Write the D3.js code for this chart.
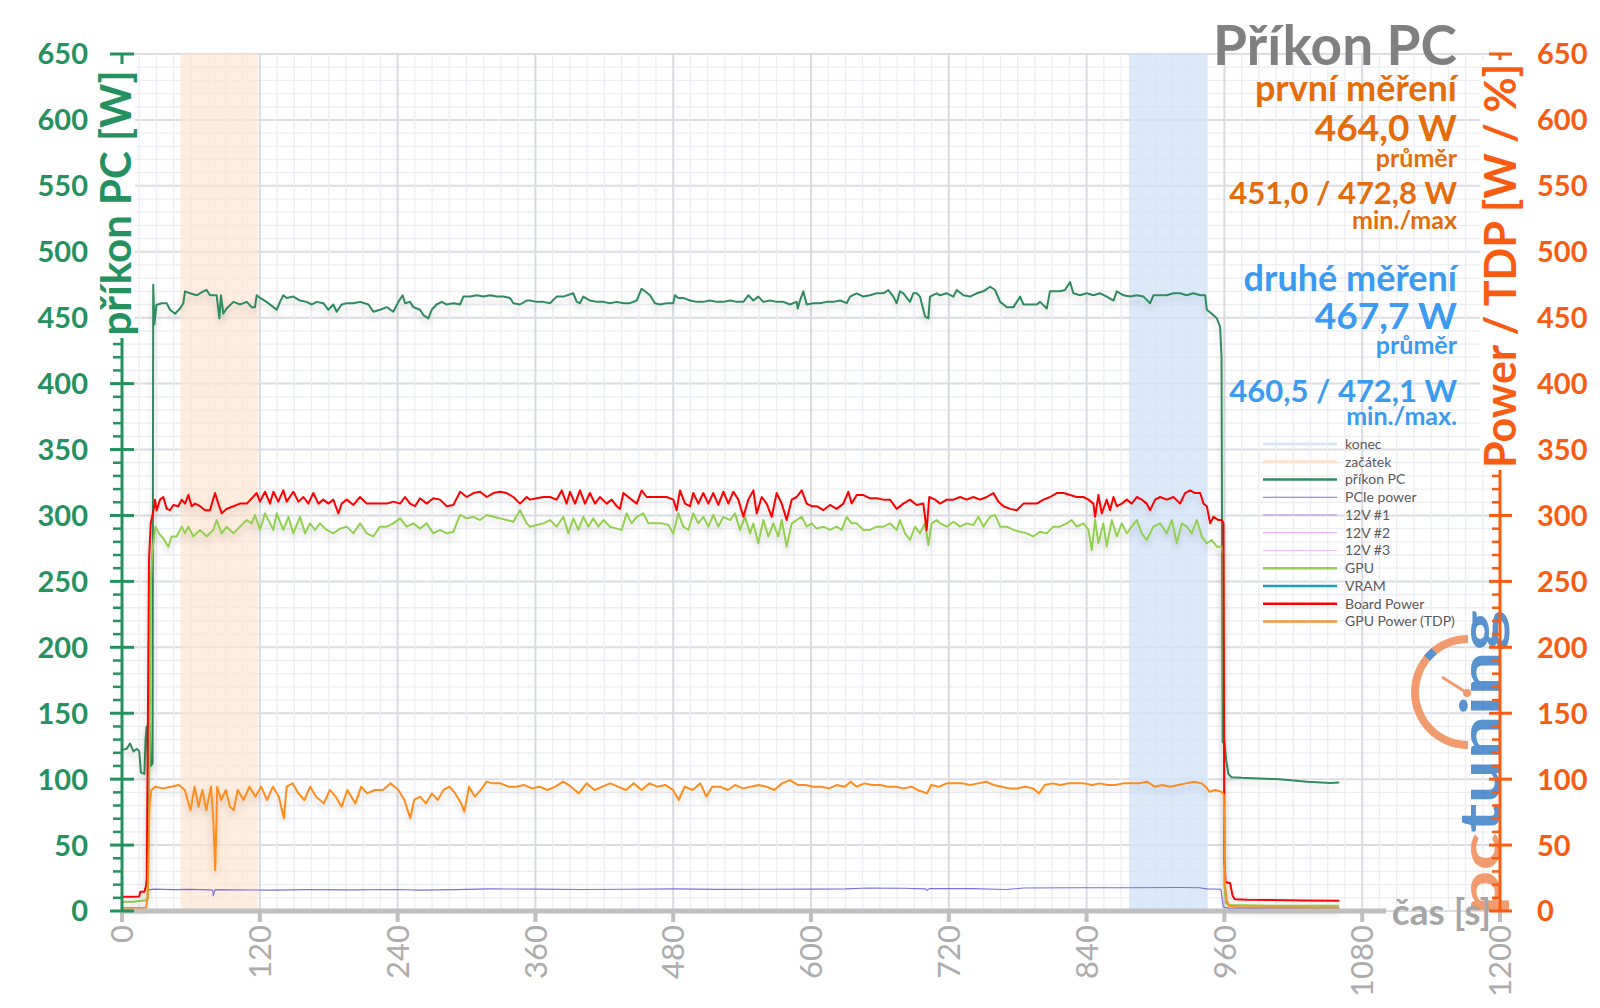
<!DOCTYPE html>
<html lang="cs">
<head>
<meta charset="UTF-8" />
<title>Příkon PC</title>
<script src="https://d3js.org/d3.v7.min.js"></script>
<style>
  html, body { margin: 0; padding: 0; background: #fff; }
  svg { display: block; font-family: Lato, "Open Sans", sans-serif; }
</style>
</head>
<body>
<svg id="chart" width="1600" height="1008"></svg>
<script>
// ---- data (time [s], power [W]) ----
const xTicks = [0, 120, 240, 360, 480, 600, 720, 840, 960, 1080, 1200];
const yTicks = [0, 50, 100, 150, 200, 250, 300, 350, 400, 450, 500, 550, 600, 650];

const startBand = [51, 118];   // "začátek"
const endBand = [877, 945];    // "konec"

const pcPower = [
  [0,122],[4,123],[7,127],[10,121],[13,123],[15,121],[16.5,105],[19.5,104],[20.5,130],[21.5,140],[22.8,109],[24.2,142],[25,110],[26.6,112],
  [27.2,475],[28.2,445],[30,459.6],[34.5,461],[38.9,461],[41.8,456],[46.2,453],[50.5,457],[53.4,461],[54.9,470],[59.2,468.5],[65,467],
  [70.8,470],[73.7,471],[76.6,467],[82.4,467],[84.8,449.5],[86.2,467],[88.2,453],[91.1,457],[97,462],[99.9,461],[102.8,460],[108.6,462],
  [112.9,458],[115.8,458],[117.3,467],[120.2,465],[125.9,462],[131.8,458],[134.7,456],[137.6,462],[140.5,467],[143.4,465],[149.2,466],
  [155,463],[160.8,462],[165.2,460],[169.5,462],[175.3,461],[179.7,456],[184,460],[187,454.5],[191.3,460],[195.7,461],[201.5,461],
  [207.3,462],[214.6,460],[218.9,454.5],[224.7,456],[230.5,458],[236.3,454.5],[240.7,462],[244.4,467],[246.5,461],[250.8,462],[253.7,458],
  [259.5,456],[262.4,452],[266.8,449.5],[269.7,456],[274,460],[278.4,462],[282.8,460],[288.6,461],[294.4,460],[297.3,466],[303.1,466],
  [308.9,467],[314.7,466],[320.5,467],[326.3,466],[332.1,466],[337.9,465],[340.8,461],[346.6,460],[352.4,463],
  [355.3,463],[361.1,462],[366.9,462],[372.7,461],[378.5,466],[384.3,466],[393,468.5],[396,462],[398.8,461],[401.7,466],[407.5,463],
  [413.4,462],[419.2,462],[425,461],[430.8,462],[436.6,461],[442.4,461],[448.2,463],[452.5,472],[455.4,470],[459.8,467],[464.1,461],
  [468.5,460],[474.3,461],[480.1,461],[481.5,467],[484.4,465],[488.8,465],[494.6,463],[500.4,462],[506.2,462],[512,463],[517.9,462],
  [523.7,462],[529.5,463],[535.3,462],[541.1,462],[545.4,467],[549.8,463],[554.1,466],[558.5,462],[564.3,463],[570.1,462],[575.9,462],
  [581.7,460],[587.5,462],[588.4,457],[590.4,463],[593.3,470],[596.2,460],[602,461],[607.8,461],[613.6,462],[619.4,462],[625.3,463],
  [631.1,461],[634,466],[639.8,468.5],[645.6,466],[651.4,467],[657.2,468.5],[663,468.5],[667.3,471],[671.7,466],[674.6,461],[677.5,470],
  [680.4,468.5],[686.2,462],[689.1,468.5],[692,468.5],[694.9,466],[699.3,451],[702.2,449.5],[703.6,466],[709.4,468.5],
  [712.4,467],[718.2,468.5],[724,466],[726.9,471],[732.7,467],[738.5,466],[744.3,468.5],[750.1,470],[756,473.5],[760.3,471],[764.7,462],
  [770.5,458],[776.3,458],[782.1,466],[785,460],[790.8,460],[796.6,460],[799.5,462],[805.3,457],[808.1,470],[816.9,470],[821.2,471],
  [825.6,477],[828.5,468.5],[834.3,467],[840.1,468.5],[845.9,467],[851.7,468.5],[857.5,466],[863.4,463],[866.3,470],[872.1,467],
  [877.9,466],[883.7,467],[889.5,466],[895.3,461],[898.2,467],[904,467],[909.8,467],[915.6,468.5],[921.4,468.5],[927.2,467],[933.1,468.5],
  [938.9,467],[943.2,467],[944.7,456],[949,453],[953.4,449.5],[956.3,443],[957.5,420],[958.5,128],[960,129],[961.6,114],[963.5,104],
  [966,101.5],[975,101],[990,100.5],[1008,100],[1032,98],[1052,97],[1060,97.5]
];

const boardPower = [
  [0,10.8],[8,10.8],[15,11],[16,14.6],[19.4,14.6],[20.8,18.5],[21.6,25],[22.6,150],[23.5,265],[25,294],[26.5,300],[27.5,304],[28.7,312],
  [30.2,304],[33.1,312],[36,314],[38.9,305],[41.8,304],[44.7,308],[49,307],[52,312],[54.9,309],[57.8,315.5],[60.7,307],[63.6,309],[68,307],
  [72.3,304],[76.6,304],[81,317],[83.9,309],[86.8,301.6],[91.1,305],[97,307],[102.8,309],[108.6,309],[112.9,313],[117.3,317],[120.2,310.5],
  [124.5,318],[128.9,309],[131.8,318],[136.1,310.5],[140.5,319],[143.4,310.5],[149.2,318],[153.6,310.5],[158,314],[162.3,309],[166.6,317],
  [171,309],[175.3,312],[179.7,309],[184,312],[188.4,301.6],[191.3,309],[195.7,312],[201.5,308],[207.3,314],[213.1,309],[218.9,309],
  [224.7,309],[230.5,309],[236.3,310.5],[242.1,309],[246.5,314],[250.8,309],[255.2,307],[259.5,313],[265.3,309],[271.1,313],[276.9,312],
  [282.8,307],[288.6,308],[294.4,318],[300.2,314],[306,317],[311.8,318],[317.6,314],[323.4,317],[329.2,318],[335,317],[340.8,314],
  [346.6,309],[352.4,314],
  [355.3,312],[361.1,313],[366.9,314],[372.7,314],[378.5,312],[382.9,319],[387.2,309],[390.1,318],[394.5,309],[398.8,319],[403.2,309],
  [407.5,317],[411.9,309],[416.2,314],[422,309],[426.4,312],[430.8,307],[433.7,305],[436.6,317],[440.9,314],[443.8,312],[448.2,309],
  [452.5,319],[456.9,314],[462.7,314],[468.5,314],[474.3,314],[480.1,312],[483,304],[485.9,319],[490.3,309],[494.6,307],[497.5,317],
  [501.9,309],[506.2,317],[510.6,309],[514.9,317],[519.3,308],[523.7,318],[528,309],[532.4,318],[536.7,312],[541.1,299],[545.4,312],
  [549.8,319],[552.7,301.6],[557.1,314],[561.4,309],[565.8,299],[570.1,317],[574.5,309],[578.8,296.5],[583.2,312],[587.5,314],[591.9,319],
  [596.2,309],[600.6,307],[604.9,307],[610.7,304],[616.5,308],[622.4,305],[628.2,309],[632.5,318],[635.4,309],[639.8,315.5],[645.6,315.5],
  [651.4,313],[657.2,313],[663,312],[668.8,312],[674.6,305],[680.4,309],[686.2,312],[692,308],[697.8,309],[700.7,289],[703,314],[708,312],
  [712.4,309],[718.2,312],[724,312],[729.8,314],[735.6,312],[741.4,314],[747.2,312],[753,314],[758.8,317],[763.2,310.5],[767.6,307],
  [773.4,305],[779.2,304],[785,309],[790.8,309],[796.6,309],[802.4,312],[808.2,314],[814,317],[819.9,317],[825.6,315.5],[831.4,314],
  [837.2,314],[841.6,312],[845.9,309],[847.4,299],[850.3,315.5],[853.2,301.6],[857.5,312],[860.4,304],[863.4,314],[866.3,307],[870.6,309],
  [875,312],[879.3,309],[883.7,314],[888,312],[892.4,309],[895.3,304],[899.7,312],[904,314],[909.8,312],[915.6,314],[921.4,309],
  [925.8,317],[930.1,319],[934.5,317],[938.9,317],[941.8,309],[944.7,307],[947.6,294],[950.5,299],[954.8,296.5],[957.7,296.5],[959.2,294],
  [960,40],[961,22],[965,21],[967,12],[969,9],[980,8.5],[1000,8.3],[1030,8],[1060,7.8]
];

const gpuCore = [
  [0,7],[10,7],[15,7.5],[20,8],[22.5,9],[24,120],[25.2,250],[26.2,271],[29.2,291.5],[32.1,286.4],[36,282.6],[40.4,276.3],[43.3,284],
  [47.6,284],[52,291.5],[54.9,286.4],[57.8,291.5],[62.1,284],[68,289],[73.7,284],[79.5,289],[82.4,296.5],[86.8,286.4],[91.1,291.5],
  [97,286.4],[102.8,291.5],[108.6,296.5],[112.9,294],[115.8,300.4],[120.2,289],[124.5,301.6],[128.9,294],[131.8,289],[134.7,301.6],
  [140.5,289],[144.9,299],[149.2,286.4],[155,299],[159.4,286.4],[163.7,294],[168.1,289],[172.4,294],[178.2,289],[184,286.4],[189.9,290],
  [195.7,291.5],[201.5,286.4],[207.3,294],[213.1,286.4],[218.9,284],[224.7,291.5],[230.5,291.5],[236.3,294],[242.1,297.8],[247.9,291.5],
  [253.7,294],[259.5,290],[265.3,294],[271.1,286.4],[276.9,289],[282.8,286.4],[288.6,287.7],[294.4,300.4],[300.2,297.8],[306,299],
  [311.8,296.5],[317.6,300.4],[323.4,299],[329.2,297.8],[335,296.5],[340.8,295.2],[346.6,304],[352.4,294],
  [355.3,291.5],[361.1,292.7],[366.9,294],[372.7,296.5],[378.5,291.5],[384.3,299],[388.7,286.4],[393,297.8],[397.4,289],[401.7,299],
  [406.1,291.5],[410.4,297.8],[414.8,291.5],[419.2,296.5],[425,291.5],[430.8,290],[435.1,289],[439.5,301.6],[443.8,294],[448.2,299],
  [454,301.6],[458.4,294],[464.2,294],[470,294],[475.8,292.7],[480.1,286.4],[484.5,301.6],[488.8,291.5],[493.2,289],[497.5,301.6],
  [501.9,294],[506.2,299],[510.6,291.5],[514.9,300.4],[519.3,291.5],[523.7,299],[529.5,296.5],[533.8,301.6],[538.2,289],[542.5,299],
  [546.9,286.4],[549.8,294],[554.1,278.9],[558.5,296.5],[562.8,284],[567.2,294],[571.5,284],[574.5,296.5],[578.8,276.3],[583.2,294],
  [587.5,296.5],[591.9,299],[596.2,291.5],[600.6,294],[604.9,290],[610.7,291.5],[616.5,289],[622.4,291.5],[626.7,289],[631.1,299],
  [635.4,294],[639.8,294],[645.6,289],[651.4,289],[657.2,291.5],[663,291.5],[668.8,294],[674.6,289],[677.5,296.5],[681.9,286.4],
  [686.2,281.4],[690.6,291.5],[694.9,286.4],[699.3,294],[702.2,277.6],[705.1,294],[709.4,296.5],
  [712.4,294],[718.2,291.5],[724,295.2],[729.8,291.5],[735.6,294],[741.4,292.7],[745.8,299],[750.1,291.5],[756,299],[760.3,300.4],
  [764.7,291.5],[770.5,291.5],[776.3,289],[782.1,287.7],[787.9,286.4],[793.7,284],[799.5,287.7],[805.3,286.4],[811.1,291.5],[816.9,291.5],
  [822.7,294],[827.1,296.5],[831.4,291.5],[837.2,294],[841.6,289],[844.5,273.8],[847.4,296.5],[850.3,278.9],[854.6,294],[857.5,276.3],
  [861.9,296.5],[866.3,284],[870.6,294],[875,286.4],[879.3,291.5],[883.7,296.5],[888,286.4],[892.4,281.4],[898.2,291.5],[904,294],
  [909.8,286.4],[914.2,296.5],[918.5,278.9],[922.9,294],[927.2,291.5],[931.6,286.4],[936,296.5],[940.3,284],[944.7,278.9],[949,281.4],
  [953.4,276.3],[957.7,276.3],[959,270],[960,20],[961.5,6],[964,4.5],[1000,4],[1060,4]
];

const gpuTdp = [
  [0,2],[21,2.5],[22.2,10],[24,80],[25.6,91.8],[29,94.3],[35.8,93],[42.7,94.3],[49.5,95.6],[54.6,91.8],[59.7,76.6],[63.2,94.3],
  [66.6,79.1],[70,91.8],[73.4,76.6],[77.5,94.3],[79.5,69],[81.2,31],[82.9,94.3],[86.4,84.2],[90.5,91.8],[93.9,79.1],[97.3,76.6],
  [100.7,91.8],[105.8,84.2],[111,94.3],[116.1,86.7],[121.2,94.3],[126.3,84.2],[131.4,94.3],[136.6,86.7],[141,70.3],[143.4,94.3],
  [148.5,96.8],[153.6,89.2],[158.8,84.2],[163.9,94.3],[169,86.7],[175.8,81.6],[181,91.8],[186.1,86.7],[191.2,79.1],[196.3,91.8],
  [203.2,81.6],[208.3,94.3],[213.4,89.2],[220.2,91.8],[227.1,91.8],[233.9,96.8],[240.7,91.8],[245.9,84.2],[251,70.3],[254.4,84.2],
  [259.5,86.7],[264.6,81.6],[269.8,89.2],[274.9,84.2],[280,91.8],[285.1,94.3],[290.2,89.2],[295.4,81.6],[298.1,75.3],[302.2,94.3],
  [307.3,86.7],[312.4,91.8],[317.6,98.1],[322.7,96.8],[329.5,96.8],[336.4,94.3],[343.2,94.3],[350,95.6],[356.8,93],[363.7,94.3],
  [370.5,91.8],[377.3,94.3],[384.2,98.1],[391,94.3],[397.8,89.2],[404.6,96.8],[411.5,91.8],[418.3,94.3],[425.1,96.8],[432,94.3],
  [438.8,91.8],[445.6,96.8],[452.5,91.8],[459.3,96.8],[466.1,94.3],[473,95.6],[479.8,91.8],[484.9,84.2],[490,94.3],[496.9,91.8],
  [503.7,96.8],[508.8,86.7],[513.9,94.3],[520.8,94.3],[527.6,91.8],
  [533.8,95.6],[540.6,93],[547.5,94.3],[554.3,95.6],[561.1,94.3],[568,91.8],[574.8,96.8],[581.6,99.3],[588.4,95.6],[595.3,95.6],
  [602.1,94.3],[608.9,94.3],[615.8,93],[622.6,95.6],[629.4,94.3],[634.5,98.1],[639.7,94.3],[646.5,96.8],[653.3,95.6],[660.2,95.6],
  [667,94.3],[673.8,94.3],[680.6,93],[687.5,94.3],[692.6,91.8],[701.1,89.2],[704.6,95.6],[711.4,94.3],[718.2,96.8],[725,96.8],
  [731.9,96.8],[738.7,95.6],[745.5,96.8],[752.4,98.1],[759.2,95.6],[766,94.3],[772.9,93],[779.7,93],[786.5,94.3],[793.3,93],[798.5,89.2],
  [803.6,95.6],[810.4,96.8],[817.2,95.6],[824.1,96.8],[830.9,96.8],[837.7,96.8],[844.6,95.6],[851.4,96.8],[858.2,95.6],[865.1,95.6],
  [871.9,96.8],[878.7,96.8],[885.5,96.8],[892.4,98.1],[899.2,94.3],[906,95.6],[912.9,94.3],[919.7,95.6],[926.5,96.8],[933.4,98.1],
  [940.2,96.8],[943.6,94.3],[947,90.5],[952.1,91.8],[957.3,90.5],[959.5,88],[960.5,20],[962,8],[964,4],[970,3],[1060,2.5]
];

const pciePower = [
  [0,2.5],[21,2.5],[23,16],[28,16.6],[45,16.2],[60,16.4],[75,16],[79,15.8],[79.5,11.5],[81,16.2],[100,16],[130,15.8],[160,16.2],
  [200,16],[240,16.3],[260,15.8],[290,16.2],[320,16.8],[360,16.6],[400,16.3],[440,16.5],[480,16.8],[520,16.4],[560,16.5],[600,16.6],
  [630,16.8],[650,17.4],[680,17.2],[700,16.8],[701,15.5],[703,17],[740,17],[770,16.3],[785,17.4],[830,17.6],[880,17.6],[920,17.8],
  [938,17.6],[945,16.8],[957,16.5],[959,3],[965,2],[1060,2]
];

const legendItems = [
  { name: "konec", color: "#d9e7f8", w: 3 },
  { name: "začátek", color: "#fde3cf", w: 3 },
  { name: "příkon PC", color: "#2e8b5e", w: 2.5 },
  { name: "PCIe power", color: "#7b6fe0", w: 1.2 },
  { name: "12V #1", color: "#b98ae6", w: 1.2 },
  { name: "12V #2", color: "#d7a0ea", w: 1.2 },
  { name: "12V #3", color: "#eac0f2", w: 1.2 },
  { name: "GPU", color: "#92d050", w: 2.5 },
  { name: "VRAM", color: "#1f9dbf", w: 2.5 },
  { name: "Board Power", color: "#ff0000", w: 2.5 },
  { name: "GPU Power (TDP)", color: "#f7963c", w: 2.5 }
];

// ---- layout ----
const svg = d3.select("#chart");
const x = d3.scaleLinear().domain([0, 1200]).range([122, 1500]);
const y = d3.scaleLinear().domain([0, 650]).range([911, 54]);

const green = "#25915f", orange = "#f85c12", grey = "#a6a6a6";

const defs = svg.append("defs");
const shadow = defs.append("filter").attr("id", "shadow")
  .attr("x", "-5%").attr("y", "-20%").attr("width", "110%").attr("height", "160%");
shadow.append("feDropShadow").attr("dx", 0).attr("dy", 5).attr("stdDeviation", 3)
  .attr("flood-color", "#000").attr("flood-opacity", 0.16);

// grid
const grid = svg.append("g");
const hMinor = d3.range(0, 651, 10).filter(v => v % 50 !== 0);
const vMinor = d3.range(0, 1201, 15).filter(v => v % 120 !== 0);

grid.selectAll(".hmaj").data(yTicks).join("line")
  .attr("x1", x(0)).attr("x2", x(1200)).attr("y1", d => y(d)).attr("y2", d => y(d))
  .attr("stroke", "#dcdde2").attr("stroke-width", 2);
grid.selectAll(".vmin").data(vMinor).join("line")
  .attr("x1", d => x(d)).attr("x2", d => x(d)).attr("y1", y(650)).attr("y2", y(0))
  .attr("stroke", "#edeef3").attr("stroke-width", 1.3);
grid.selectAll(".hmin").data(hMinor).join("line")
  .attr("x1", x(0)).attr("x2", x(1200)).attr("y1", d => y(d)).attr("y2", d => y(d))
  .attr("stroke", "#edeef3").attr("stroke-width", 1.3);
grid.selectAll(".vmaj").data(xTicks).join("line")
  .attr("x1", d => x(d)).attr("x2", d => x(d)).attr("y1", y(650)).attr("y2", y(0))
  .attr("stroke", "#d9dbe1").attr("stroke-width", 2);

// bands
svg.append("rect")
  .attr("x", x(startBand[0])).attr("width", x(startBand[1]) - x(startBand[0]))
  .attr("y", y(650)).attr("height", y(0) - y(650))
  .attr("fill", "#fde4d0").attr("fill-opacity", 0.7);
svg.append("rect")
  .attr("x", x(endBand[0])).attr("width", x(endBand[1]) - x(endBand[0]))
  .attr("y", y(650)).attr("height", y(0) - y(650))
  .attr("fill", "#cfe2f9").attr("fill-opacity", 0.75);

// logo
const logo = svg.append("g").attr("opacity", 0.85);
logo.append("path")
  .attr("transform", "translate(1468,692)")
  .attr("d", d3.arc()({ innerRadius: 49, outerRadius: 57, startAngle: Math.PI, endAngle: 2 * Math.PI }))
  .attr("fill", "#f08a55");
logo.append("path")
  .attr("transform", "translate(1468,692)")
  .attr("d", d3.arc()({ innerRadius: 49, outerRadius: 57, startAngle: 1.72 * Math.PI, endAngle: 1.78 * Math.PI }))
  .attr("fill", "#3b7fc7");
logo.append("line").attr("x1", 1467).attr("y1", 693).attr("x2", 1442).attr("y2", 677)
  .attr("stroke", "#f08a55").attr("stroke-width", 3);
logo.append("circle").attr("cx", 1467).attr("cy", 693).attr("r", 4).attr("fill", "#f08a55");
const logoText = logo.append("text")
  .attr("transform", "translate(1500,915) rotate(-90)")
  .attr("font-size", 56).attr("font-weight", 700)
  .attr("textLength", 305).attr("lengthAdjust", "spacingAndGlyphs");
logoText.append("tspan").attr("fill", "#f08a55").text("pc");
logoText.append("tspan").attr("fill", "#3b7fc7").text("tuning");

// series
const line = d3.line().x(d => x(d[0])).y(d => y(d[1]));
const series = [
  { data: pcPower, color: "#2e8b5e", w: 2 },
  { data: pciePower, color: "#7b6fe0", w: 1.1, noShadow: true },
  { data: gpuCore, color: "#92d050", w: 2 },
  { data: boardPower, color: "#ff0000", w: 2 },
  { data: gpuTdp, color: "#ff8c1a", w: 2 }
];
svg.append("g").selectAll("path").data(series).join("path")
  .attr("d", d => line(d.data))
  .attr("fill", "none")
  .attr("stroke", d => d.color)
  .attr("stroke-width", d => d.w)
  .attr("stroke-linejoin", "round")
  .attr("filter", d => d.noShadow ? null : "url(#shadow)");

// x axis
svg.append("line").attr("x1", x(0)).attr("x2", 1386).attr("y1", y(0)).attr("y2", y(0))
  .attr("stroke", "#bfbfbf").attr("stroke-width", 5);
svg.selectAll(".xtick").data(xTicks).join("line")
  .attr("x1", d => x(d)).attr("x2", d => x(d)).attr("y1", y(0)).attr("y2", y(0) + 11)
  .attr("stroke", "#bfbfbf").attr("stroke-width", 4);
svg.selectAll(".xlab").data(xTicks).join("text")
  .attr("transform", d => `translate(${x(d)},925) rotate(-90)`)
  .attr("text-anchor", "end").attr("dy", "0.36em")
  .attr("font-size", 31).attr("fill", "#acacac")
  .text(d => d);
svg.append("text").attr("x", 1491).attr("y", 925).attr("text-anchor", "end")
  .attr("font-size", 37).attr("font-weight", 700).attr("fill", grey).text("čas [s]");

// left axis
const yMinor = d3.range(0, 651, 10).filter(v => v % 50 !== 0);
svg.append("line").attr("x1", x(0)).attr("x2", x(0)).attr("y1", y(0)).attr("y2", y(650))
  .attr("stroke", green).attr("stroke-width", 3);
svg.selectAll(".lmaj").data(yTicks).join("line")
  .attr("x1", x(0) - 12).attr("x2", x(0) + 12).attr("y1", d => y(d)).attr("y2", d => y(d))
  .attr("stroke", green).attr("stroke-width", 3);
svg.selectAll(".lmin").data(yMinor).join("line")
  .attr("x1", x(0) - 9).attr("x2", x(0)).attr("y1", d => y(d)).attr("y2", d => y(d))
  .attr("stroke", green).attr("stroke-width", 2.5);
svg.selectAll(".llab").data(yTicks).join("text")
  .attr("x", 88).attr("y", d => y(d)).attr("dy", "0.36em").attr("text-anchor", "end")
  .attr("font-size", 29).attr("font-weight", 700).attr("fill", green)
  .text(d => d);
svg.append("rect").attr("x", 98).attr("y", 64).attr("width", 37).attr("height", 274).attr("fill", "#fff");
svg.append("text").attr("transform", "translate(131,203) rotate(-90)")
  .attr("text-anchor", "middle").attr("font-size", 42).attr("font-weight", 700).attr("fill", green)
  .text("příkon PC [W]");

// right axis
svg.append("line").attr("x1", x(1200)).attr("x2", x(1200)).attr("y1", y(0)).attr("y2", y(650))
  .attr("stroke", orange).attr("stroke-width", 3);
svg.selectAll(".rmaj").data(yTicks).join("line")
  .attr("x1", x(1200) - 11).attr("x2", x(1200) + 12).attr("y1", d => y(d)).attr("y2", d => y(d))
  .attr("stroke", orange).attr("stroke-width", 3);
svg.selectAll(".rmin").data(yMinor).join("line")
  .attr("x1", x(1200) - 8).attr("x2", x(1200)).attr("y1", d => y(d)).attr("y2", d => y(d))
  .attr("stroke", orange).attr("stroke-width", 2.5);
svg.selectAll(".rlab").data(yTicks).join("text")
  .attr("x", 1537).attr("y", d => y(d)).attr("dy", "0.36em").attr("text-anchor", "start")
  .attr("font-size", 29).attr("font-weight", 700).attr("fill", orange)
  .text(d => d);
svg.append("rect").attr("x", 1480).attr("y", 60).attr("width", 44).attr("height", 410).attr("fill", "#fff");
svg.append("text").attr("transform", "translate(1516,266) rotate(-90)")
  .attr("text-anchor", "middle").attr("font-size", 43).attr("font-weight", 700).attr("fill", orange)
  .text("Power / TDP [W / %]");

// title + measurement summary
const info = [
  { t: "Příkon PC", y: 65, s: 55, c: "#808080" },
  { t: "první měření", y: 101, s: 36, c: "#e46c0a" },
  { t: "464,0 W", y: 141, s: 37, c: "#e46c0a" },
  { t: "průměr", y: 167, s: 25, c: "#e46c0a" },
  { t: "451,0 / 472,8 W", y: 204, s: 31, c: "#e46c0a" },
  { t: "min./max", y: 229, s: 25, c: "#e46c0a" },
  { t: "druhé měření", y: 291, s: 36, c: "#3b9bf0" },
  { t: "467,7 W", y: 329, s: 37, c: "#3b9bf0" },
  { t: "průměr", y: 354, s: 25, c: "#3b9bf0" },
  { t: "460,5 / 472,1 W", y: 402, s: 31, c: "#3b9bf0" },
  { t: "min./max.", y: 425, s: 25, c: "#3b9bf0" }
];
svg.append("g").selectAll("text").data(info).join("text")
  .attr("x", 1457).attr("y", d => d.y).attr("text-anchor", "end")
  .attr("font-size", d => d.s).attr("font-weight", 700).attr("fill", d => d.c)
  .text(d => d.t);

// legend
const legend = svg.append("g").attr("transform", "translate(1263,444)");
const rows = legend.selectAll("g").data(legendItems).join("g")
  .attr("transform", (d, i) => `translate(0,${i * 17.75})`);
rows.append("line").attr("x1", 0).attr("x2", 74).attr("y1", 0).attr("y2", 0)
  .attr("stroke", d => d.color).attr("stroke-width", d => d.w);
rows.append("text").attr("x", 82).attr("y", 0).attr("dy", "0.35em")
  .attr("font-size", 14).attr("fill", "#595959").text(d => d.name);
</script>
</body>
</html>
